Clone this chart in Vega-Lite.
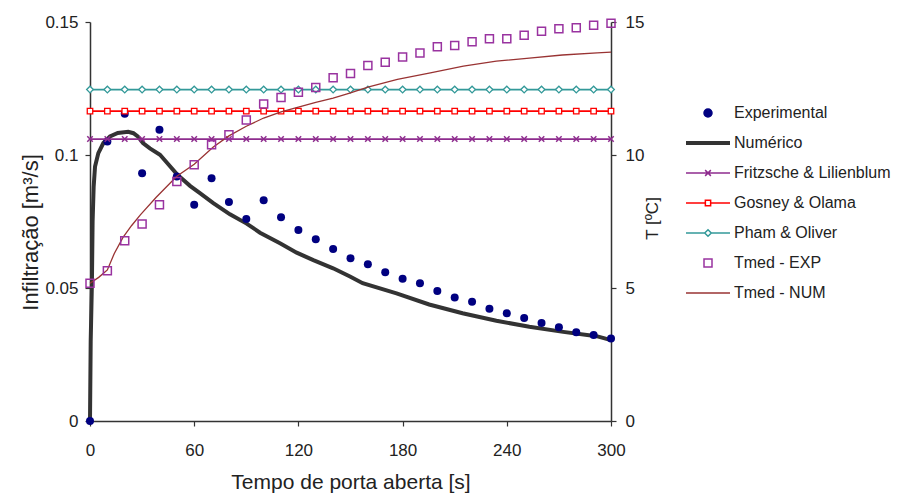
{
  "$schema": "https://vega.github.io/schema/vega-lite/v6.json",
  "width": 521,
  "height": 399,
  "autosize": {"type": "none"},
  "padding": {"left": 90, "top": 22, "right": 287, "bottom": 76},
  "background": "white",
  "config": {
    "view": {"stroke": null},
    "font": "Liberation Sans",
    "axis": {"grid": false, "domainColor": "#333333", "tickColor": "#333333", "labelColor": "#222222", "titleColor": "#222222", "titleFontWeight": "normal", "labelFont": "Liberation Sans", "titleFont": "Liberation Sans", "domainWidth": 1.5, "tickWidth": 1.2, "labelFlush": false}
  },
  "datasets": {
    "exp": [
      {"s":"Experimental","t":0,"v":0},{"s":"Experimental","t":10,"v":0.1051},{"s":"Experimental","t":20,"v":0.1155},{"s":"Experimental","t":30,"v":0.0931},{"s":"Experimental","t":40,"v":0.1095},{"s":"Experimental","t":50,"v":0.0919},{"s":"Experimental","t":60,"v":0.0813},{"s":"Experimental","t":70,"v":0.0913},{"s":"Experimental","t":80,"v":0.0823},{"s":"Experimental","t":90,"v":0.0759},{"s":"Experimental","t":100,"v":0.083},{"s":"Experimental","t":110,"v":0.0766},{"s":"Experimental","t":120,"v":0.0718},{"s":"Experimental","t":130,"v":0.0683},{"s":"Experimental","t":140,"v":0.0647},{"s":"Experimental","t":150,"v":0.0612},{"s":"Experimental","t":160,"v":0.0589},{"s":"Experimental","t":170,"v":0.0559},{"s":"Experimental","t":180,"v":0.0535},{"s":"Experimental","t":190,"v":0.0518},{"s":"Experimental","t":200,"v":0.0489},{"s":"Experimental","t":210,"v":0.0464},{"s":"Experimental","t":220,"v":0.0448},{"s":"Experimental","t":230,"v":0.0422},{"s":"Experimental","t":240,"v":0.0405},{"s":"Experimental","t":250,"v":0.0387},{"s":"Experimental","t":260,"v":0.0368},{"s":"Experimental","t":270,"v":0.0352},{"s":"Experimental","t":280,"v":0.0334},{"s":"Experimental","t":290,"v":0.0323},{"s":"Experimental","t":300,"v":0.031}
    ],
    "num": [
      {"s":"Numérico","t":0,"v":0},{"s":"Numérico","t":0.4,"v":0.03},{"s":"Numérico","t":1.1,"v":0.052},{"s":"Numérico","t":1.5,"v":0.075},{"s":"Numérico","t":2.1,"v":0.088},{"s":"Numérico","t":2.9,"v":0.0957},{"s":"Numérico","t":4.8,"v":0.1007},{"s":"Numérico","t":7.7,"v":0.1045},{"s":"Numérico","t":11.5,"v":0.107},{"s":"Numérico","t":16,"v":0.1083},{"s":"Numérico","t":22,"v":0.1087},{"s":"Numérico","t":25,"v":0.1082},{"s":"Numérico","t":27.5,"v":0.107},{"s":"Numérico","t":30.5,"v":0.1045},{"s":"Numérico","t":34.5,"v":0.1025},{"s":"Numérico","t":40.3,"v":0.1001},{"s":"Numérico","t":44.2,"v":0.0972},{"s":"Numérico","t":50,"v":0.0928},{"s":"Numérico","t":57.6,"v":0.0884},{"s":"Numérico","t":63.3,"v":0.0857},{"s":"Numérico","t":71,"v":0.0819},{"s":"Numérico","t":80.6,"v":0.0777},{"s":"Numérico","t":90.2,"v":0.0742},{"s":"Numérico","t":97.9,"v":0.0708},{"s":"Numérico","t":109.4,"v":0.0668},{"s":"Numérico","t":119,"v":0.0633},{"s":"Numérico","t":128.6,"v":0.0605},{"s":"Numérico","t":140,"v":0.0574},{"s":"Numérico","t":149.7,"v":0.0543},{"s":"Numérico","t":157,"v":0.0518},{"s":"Numérico","t":176.5,"v":0.048},{"s":"Numérico","t":195.3,"v":0.0438},{"s":"Numérico","t":214.5,"v":0.0405},{"s":"Numérico","t":234,"v":0.0377},{"s":"Numérico","t":253,"v":0.0354},{"s":"Numérico","t":272.5,"v":0.0335},{"s":"Numérico","t":291.7,"v":0.0319},{"s":"Numérico","t":300,"v":0.0304}
    ],
    "models": [
      {"s":"Fritzsche & Lilienblum","t":0,"v":0.106},{"s":"Fritzsche & Lilienblum","t":10,"v":0.106},{"s":"Fritzsche & Lilienblum","t":20,"v":0.106},{"s":"Fritzsche & Lilienblum","t":30,"v":0.106},{"s":"Fritzsche & Lilienblum","t":40,"v":0.106},{"s":"Fritzsche & Lilienblum","t":50,"v":0.106},{"s":"Fritzsche & Lilienblum","t":60,"v":0.106},{"s":"Fritzsche & Lilienblum","t":70,"v":0.106},{"s":"Fritzsche & Lilienblum","t":80,"v":0.106},{"s":"Fritzsche & Lilienblum","t":90,"v":0.106},{"s":"Fritzsche & Lilienblum","t":100,"v":0.106},{"s":"Fritzsche & Lilienblum","t":110,"v":0.106},{"s":"Fritzsche & Lilienblum","t":120,"v":0.106},{"s":"Fritzsche & Lilienblum","t":130,"v":0.106},{"s":"Fritzsche & Lilienblum","t":140,"v":0.106},{"s":"Fritzsche & Lilienblum","t":150,"v":0.106},{"s":"Fritzsche & Lilienblum","t":160,"v":0.106},{"s":"Fritzsche & Lilienblum","t":170,"v":0.106},{"s":"Fritzsche & Lilienblum","t":180,"v":0.106},{"s":"Fritzsche & Lilienblum","t":190,"v":0.106},{"s":"Fritzsche & Lilienblum","t":200,"v":0.106},{"s":"Fritzsche & Lilienblum","t":210,"v":0.106},{"s":"Fritzsche & Lilienblum","t":220,"v":0.106},{"s":"Fritzsche & Lilienblum","t":230,"v":0.106},{"s":"Fritzsche & Lilienblum","t":240,"v":0.106},{"s":"Fritzsche & Lilienblum","t":250,"v":0.106},{"s":"Fritzsche & Lilienblum","t":260,"v":0.106},{"s":"Fritzsche & Lilienblum","t":270,"v":0.106},{"s":"Fritzsche & Lilienblum","t":280,"v":0.106},{"s":"Fritzsche & Lilienblum","t":290,"v":0.106},{"s":"Fritzsche & Lilienblum","t":300,"v":0.106},
      {"s":"Gosney & Olama","t":0,"v":0.1165},{"s":"Gosney & Olama","t":10,"v":0.1165},{"s":"Gosney & Olama","t":20,"v":0.1165},{"s":"Gosney & Olama","t":30,"v":0.1165},{"s":"Gosney & Olama","t":40,"v":0.1165},{"s":"Gosney & Olama","t":50,"v":0.1165},{"s":"Gosney & Olama","t":60,"v":0.1165},{"s":"Gosney & Olama","t":70,"v":0.1165},{"s":"Gosney & Olama","t":80,"v":0.1165},{"s":"Gosney & Olama","t":90,"v":0.1165},{"s":"Gosney & Olama","t":100,"v":0.1165},{"s":"Gosney & Olama","t":110,"v":0.1165},{"s":"Gosney & Olama","t":120,"v":0.1165},{"s":"Gosney & Olama","t":130,"v":0.1165},{"s":"Gosney & Olama","t":140,"v":0.1165},{"s":"Gosney & Olama","t":150,"v":0.1165},{"s":"Gosney & Olama","t":160,"v":0.1165},{"s":"Gosney & Olama","t":170,"v":0.1165},{"s":"Gosney & Olama","t":180,"v":0.1165},{"s":"Gosney & Olama","t":190,"v":0.1165},{"s":"Gosney & Olama","t":200,"v":0.1165},{"s":"Gosney & Olama","t":210,"v":0.1165},{"s":"Gosney & Olama","t":220,"v":0.1165},{"s":"Gosney & Olama","t":230,"v":0.1165},{"s":"Gosney & Olama","t":240,"v":0.1165},{"s":"Gosney & Olama","t":250,"v":0.1165},{"s":"Gosney & Olama","t":260,"v":0.1165},{"s":"Gosney & Olama","t":270,"v":0.1165},{"s":"Gosney & Olama","t":280,"v":0.1165},{"s":"Gosney & Olama","t":290,"v":0.1165},{"s":"Gosney & Olama","t":300,"v":0.1165},
      {"s":"Pham & Oliver","t":0,"v":0.1246},{"s":"Pham & Oliver","t":10,"v":0.1246},{"s":"Pham & Oliver","t":20,"v":0.1246},{"s":"Pham & Oliver","t":30,"v":0.1246},{"s":"Pham & Oliver","t":40,"v":0.1246},{"s":"Pham & Oliver","t":50,"v":0.1246},{"s":"Pham & Oliver","t":60,"v":0.1246},{"s":"Pham & Oliver","t":70,"v":0.1246},{"s":"Pham & Oliver","t":80,"v":0.1246},{"s":"Pham & Oliver","t":90,"v":0.1246},{"s":"Pham & Oliver","t":100,"v":0.1246},{"s":"Pham & Oliver","t":110,"v":0.1246},{"s":"Pham & Oliver","t":120,"v":0.1246},{"s":"Pham & Oliver","t":130,"v":0.1246},{"s":"Pham & Oliver","t":140,"v":0.1246},{"s":"Pham & Oliver","t":150,"v":0.1246},{"s":"Pham & Oliver","t":160,"v":0.1246},{"s":"Pham & Oliver","t":170,"v":0.1246},{"s":"Pham & Oliver","t":180,"v":0.1246},{"s":"Pham & Oliver","t":190,"v":0.1246},{"s":"Pham & Oliver","t":200,"v":0.1246},{"s":"Pham & Oliver","t":210,"v":0.1246},{"s":"Pham & Oliver","t":220,"v":0.1246},{"s":"Pham & Oliver","t":230,"v":0.1246},{"s":"Pham & Oliver","t":240,"v":0.1246},{"s":"Pham & Oliver","t":250,"v":0.1246},{"s":"Pham & Oliver","t":260,"v":0.1246},{"s":"Pham & Oliver","t":270,"v":0.1246},{"s":"Pham & Oliver","t":280,"v":0.1246},{"s":"Pham & Oliver","t":290,"v":0.1246},{"s":"Pham & Oliver","t":300,"v":0.1246}
    ],
    "texp": [
      {"s":"Tmed - EXP","t":0,"v":5.18},{"s":"Tmed - EXP","t":10,"v":5.65},{"s":"Tmed - EXP","t":20,"v":6.78},{"s":"Tmed - EXP","t":30,"v":7.41},{"s":"Tmed - EXP","t":40,"v":8.13},{"s":"Tmed - EXP","t":50,"v":9.0},{"s":"Tmed - EXP","t":60,"v":9.63},{"s":"Tmed - EXP","t":70,"v":10.39},{"s":"Tmed - EXP","t":80,"v":10.76},{"s":"Tmed - EXP","t":90,"v":11.32},{"s":"Tmed - EXP","t":100,"v":11.92},{"s":"Tmed - EXP","t":110,"v":12.16},{"s":"Tmed - EXP","t":120,"v":12.36},{"s":"Tmed - EXP","t":130,"v":12.54},{"s":"Tmed - EXP","t":140,"v":12.9},{"s":"Tmed - EXP","t":150,"v":13.06},{"s":"Tmed - EXP","t":160,"v":13.36},{"s":"Tmed - EXP","t":170,"v":13.49},{"s":"Tmed - EXP","t":180,"v":13.68},{"s":"Tmed - EXP","t":190,"v":13.83},{"s":"Tmed - EXP","t":200,"v":14.07},{"s":"Tmed - EXP","t":210,"v":14.12},{"s":"Tmed - EXP","t":220,"v":14.26},{"s":"Tmed - EXP","t":230,"v":14.37},{"s":"Tmed - EXP","t":240,"v":14.37},{"s":"Tmed - EXP","t":250,"v":14.5},{"s":"Tmed - EXP","t":260,"v":14.65},{"s":"Tmed - EXP","t":270,"v":14.75},{"s":"Tmed - EXP","t":280,"v":14.78},{"s":"Tmed - EXP","t":290,"v":14.88},{"s":"Tmed - EXP","t":300,"v":14.95}
    ],
    "tnum": [
      {"s":"Tmed - NUM","t":0,"v":5.18},{"s":"Tmed - NUM","t":5,"v":5.4},{"s":"Tmed - NUM","t":10,"v":5.68},{"s":"Tmed - NUM","t":14,"v":6.3},{"s":"Tmed - NUM","t":19,"v":6.9},{"s":"Tmed - NUM","t":24,"v":7.35},{"s":"Tmed - NUM","t":29,"v":7.75},{"s":"Tmed - NUM","t":38,"v":8.4},{"s":"Tmed - NUM","t":50,"v":9.2},{"s":"Tmed - NUM","t":60,"v":9.65},{"s":"Tmed - NUM","t":71,"v":10.3},{"s":"Tmed - NUM","t":80,"v":10.72},{"s":"Tmed - NUM","t":90,"v":11.08},{"s":"Tmed - NUM","t":100,"v":11.39},{"s":"Tmed - NUM","t":110,"v":11.62},{"s":"Tmed - NUM","t":120,"v":11.8},{"s":"Tmed - NUM","t":130,"v":11.98},{"s":"Tmed - NUM","t":140,"v":12.14},{"s":"Tmed - NUM","t":150,"v":12.34},{"s":"Tmed - NUM","t":160,"v":12.55},{"s":"Tmed - NUM","t":177,"v":12.84},{"s":"Tmed - NUM","t":196,"v":13.09},{"s":"Tmed - NUM","t":215,"v":13.34},{"s":"Tmed - NUM","t":234,"v":13.53},{"s":"Tmed - NUM","t":253,"v":13.64},{"s":"Tmed - NUM","t":272,"v":13.76},{"s":"Tmed - NUM","t":292,"v":13.84},{"s":"Tmed - NUM","t":300,"v":13.87}
    ]
  },
  "layer": [
    {
      "layer": [
        {
          "data": {"name": "num"},
          "mark": {"type": "line", "strokeWidth": 4},
          "encoding": {
            "x": {"field": "t", "type": "quantitative", "scale": {"domain": [0, 300], "nice": false},
              "axis": {"values": [0, 60, 120, 180, 240, 300], "tickSize": 5, "labelPadding": 16, "labelFontSize": 17, "titleFontSize": 21, "titleY": 67, "titleBaseline": "alphabetic", "title": "Tempo de porta aberta [s]"}},
            "y": {"field": "v", "type": "quantitative", "scale": {"domain": [0, 0.15], "nice": false},
              "axis": {"values": [0, 0.05, 0.1, 0.15], "format": "~g", "tickSize": 5, "labelPadding": 7, "labelFontSize": 17, "title": "Infiltração [m³/s]", "titleFontSize": 22, "titleAngle": 270, "titleX": -53, "titleY": 210, "titleBaseline": "alphabetic", "titleAlign": "center"}},
            "color": {"field": "s", "type": "nominal",
              "scale": {"domain": ["Experimental", "Numérico", "Fritzsche & Lilienblum", "Gosney & Olama", "Pham & Oliver", "Tmed - EXP", "Tmed - NUM"],
                        "range": ["#000080", "#333333", "#8e2c8e", "#ff0000", "#339999", "#9933a0", "#993333"]},
              "legend": {"orient": "none", "legendX": 595, "legendY": 76, "title": null, "clipHeight": 30, "symbolSize": 1936, "rowPadding": 0, "symbolOffset": 15, "labelOffset": 18, "labelFontSize": 16, "labelColor": "#222222", "labelFont": "Liberation Sans", "padding": 0, "labelLimit": 300,
                "encode": {"symbols": {"update": {
                  "shape": {"signal": "datum.value==='Experimental'?'circle':datum.value==='Tmed - EXP'?'square':datum.value==='Fritzsche & Lilienblum'?'M-1,0H1M-0.13,-0.13L0.13,0.13M-0.13,0.13L0.13,-0.13':datum.value==='Gosney & Olama'?'M-1,0H-0.12M0.12,0H1M-0.12,-0.12H0.12V0.12H-0.12Z':datum.value==='Pham & Oliver'?'M-1,0H-0.15M0.15,0H1M-0.15,0L0,-0.15L0.15,0L0,0.15Z':'M-1,0H1'"},
                  "size": {"signal": "datum.value==='Experimental'||datum.value==='Tmed - EXP'?64:1936"},
                  "fill": {"signal": "datum.value==='Experimental'?'#000080':'transparent'"},
                  "fillOpacity": {"signal": "datum.value==='Experimental'?1:0"},
                  "stroke": {"signal": "datum.value==='Experimental'?'transparent':datum.value==='Numérico'?'#333333':datum.value==='Fritzsche & Lilienblum'?'#8e2c8e':datum.value==='Gosney & Olama'?'#ff0000':datum.value==='Pham & Oliver'?'#339999':datum.value==='Tmed - EXP'?'#9933a0':'#993333'"},
                  "strokeWidth": {"signal": "datum.value==='Numérico'?4:1.5"},
                  "opacity": {"value": 1}
                }}}}}
          }
        },
        {
          "data": {"name": "exp"},
          "mark": {"type": "point", "filled": true, "shape": "circle", "size": 64, "opacity": 1},
          "encoding": {
            "x": {"field": "t", "type": "quantitative"},
            "y": {"field": "v", "type": "quantitative"},
            "color": {"field": "s", "type": "nominal"}
          }
        },
        {
          "data": {"name": "models"},
          "mark": {"type": "line", "strokeWidth": 1.8},
          "encoding": {
            "x": {"field": "t", "type": "quantitative"},
            "y": {"field": "v", "type": "quantitative"},
            "color": {"field": "s", "type": "nominal"}
          }
        },
        {
          "data": {"name": "models"},
          "transform": [{"filter": "datum.s === 'Fritzsche & Lilienblum'"}],
          "mark": {"type": "point", "filled": false, "shape": "M-1,-1L1,1M-1,1L1,-1", "size": 30, "strokeWidth": 1.5, "opacity": 1},
          "encoding": {
            "x": {"field": "t", "type": "quantitative"},
            "y": {"field": "v", "type": "quantitative"},
            "color": {"field": "s", "type": "nominal"}
          }
        },
        {
          "data": {"name": "models"},
          "transform": [{"filter": "datum.s === 'Gosney & Olama'"}],
          "mark": {"type": "point", "filled": false, "fill": "white", "fillOpacity": 1, "shape": "square", "size": 30, "strokeWidth": 1.3, "opacity": 1},
          "encoding": {
            "x": {"field": "t", "type": "quantitative"},
            "y": {"field": "v", "type": "quantitative"},
            "color": {"field": "s", "type": "nominal"}
          }
        },
        {
          "data": {"name": "models"},
          "transform": [{"filter": "datum.s === 'Pham & Oliver'"}],
          "mark": {"type": "point", "filled": false, "fill": "white", "fillOpacity": 1, "shape": "diamond", "size": 45, "strokeWidth": 1.3, "opacity": 1},
          "encoding": {
            "x": {"field": "t", "type": "quantitative"},
            "y": {"field": "v", "type": "quantitative"},
            "color": {"field": "s", "type": "nominal"}
          }
        }
      ]
    },
    {
      "layer": [
        {
          "data": {"name": "tnum"},
          "mark": {"type": "line", "strokeWidth": 1.3},
          "encoding": {
            "x": {"field": "t", "type": "quantitative"},
            "y": {"field": "v", "type": "quantitative", "scale": {"domain": [0, 15], "nice": false},
              "axis": {"orient": "right", "values": [0, 5, 10, 15], "format": "d", "tickSize": 5, "labelPadding": 9, "labelFontSize": 17, "title": "T [ºC]", "titleFontSize": 17, "titleAngle": 270, "titleX": 46, "titleY": 196, "titleBaseline": "alphabetic", "titleAlign": "center",
                "encode": {"ticks": {"update": {"x": {"value": -5}}}}}},
            "color": {"field": "s", "type": "nominal"}
          }
        },
        {
          "data": {"name": "texp"},
          "mark": {"type": "point", "filled": false, "shape": "square", "size": 64, "strokeWidth": 1.5, "opacity": 1},
          "encoding": {
            "x": {"field": "t", "type": "quantitative"},
            "y": {"field": "v", "type": "quantitative"},
            "color": {"field": "s", "type": "nominal"}
          }
        }
      ]
    }
  ],
  "resolve": {"scale": {"y": "independent"}}
}
